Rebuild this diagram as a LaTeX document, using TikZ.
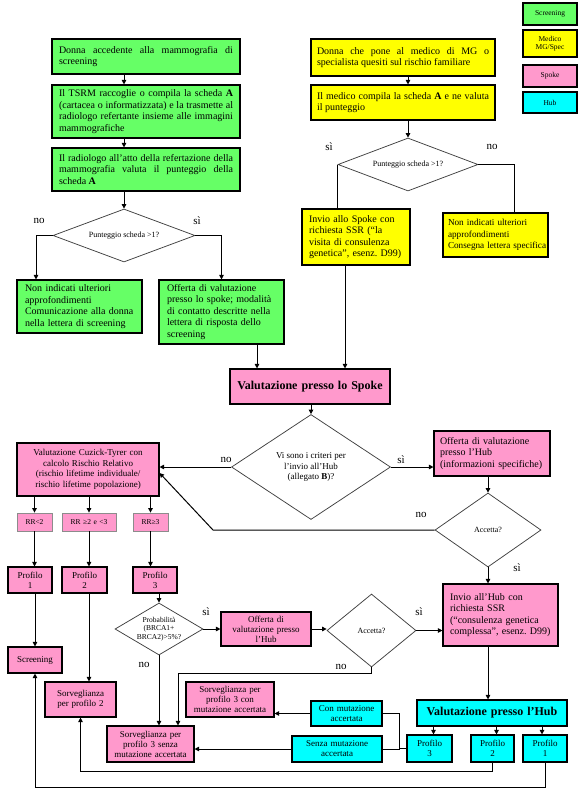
\documentclass[tikz,border=0pt]{standalone}
\usepackage{fontspec}
\setmainfont{Liberation Serif}
\usetikzlibrary{arrows.meta,shapes.geometric,calc}
\definecolor{cG}{HTML}{66FF66}
\definecolor{cY}{HTML}{FFFF00}
\definecolor{cP}{HTML}{FF99CC}
\definecolor{cC}{HTML}{00FFFF}
\newcommand\fTen{\fontsize{10}{11.5}\selectfont}
\newcommand\fNine{\fontsize{9}{10}\selectfont}
\newcommand\fNineB{\fontsize{9}{10.8}\selectfont}
\newcommand\fEight{\fontsize{8}{9.5}\selectfont}
\newcommand\fSev{\fontsize{7.5}{8.5}\selectfont}
\newcommand\fBig{\fontsize{12}{14}\selectfont\bfseries}
\newcommand\fLab{\fontsize{11}{13}\selectfont}
% name, x1, y1, x2, y2, pad, style, text
\newcommand\bx[8]{%
  \pgfmathsetmacro\myW{#4-#2}\pgfmathsetmacro\myH{#5-#3}\pgfmathsetmacro\myT{#4-#2-2*#6}%
  \node[#7, minimum width=\myW pt, minimum height=\myH pt, inner xsep=#6pt, text width=\myT pt] (#1) at ({(#2+#4)/2},{(#3+#5)/2}) {#8};}
\tikzset{
  bx/.style={draw=black, line width=1.1pt, inner ysep=0.5pt, font=\fTen},
  bxg/.style={bx, fill=cG},
  bxy/.style={bx, fill=cY},
  bxp/.style={bx, fill=cP},
  bxc/.style={bx, fill=cC},
  rrbox/.style={draw=black!45, line width=0.8pt, fill=cP, inner ysep=0pt, font=\fSev, align=center},
  dia/.style={diamond, draw=black!75, line width=0.75pt, fill=white, inner sep=0pt, align=center},
  arr/.style={line width=1pt, -{Triangle[length=4.5pt,width=4.5pt]}},
  ln/.style={line width=1pt},
  lab/.style={font=\fLab, inner sep=0pt}
}
\begin{document}
\hyphenpenalty=10000
\exhyphenpenalty=10000
\frenchspacing
\begin{tikzpicture}[x=1pt,y=-1pt]
\useasboundingbox[fill=white] (0,0) rectangle (582,795);

% legend
\bx{lgS}{523}{3}{577}{25}{2}{bxg, font=\fSev, align=center}{Screening}
\bx{lgM}{523}{30}{577}{57}{2}{bxy, font=\fSev, align=center}{Medico\\MG/Spec}
\bx{lgP}{523}{65}{577}{87}{2}{bxp, font=\fSev, align=center}{Spoke}
\bx{lgH}{523}{92}{577}{113}{2}{bxc, font=\fSev, align=center}{Hub}

% screening column
\bx{g1}{52}{39}{240}{74}{7}{bxg, align=justify}{Donna accedente alla mammografia di screening}
\bx{g2}{52}{85}{240}{138}{7}{bxg, align=justify}{Il TSRM raccoglie o compila la scheda \textbf{A}\linebreak (cartacea o informatizzata) e la trasmette al\linebreak radiologo refertante insieme alle immagini mammografiche}
\bx{g3}{52}{148}{240}{191}{7}{bxg, align=justify}{Il radiologo all’atto della refertazione della mammografia valuta il punteggio della scheda \textbf{A}}
\node[dia, font=\fEight, minimum width=142pt, minimum height=53pt, shape aspect=2.7] (dA) at (124,235.5) {Punteggio scheda >1?};
\bx{gNo}{17}{280}{142}{333}{8}{bxg, align=left}{Non indicati ulteriori\\approfondimenti\\Comunicazione alla donna\\\mbox{nella lettera di screening}}
\bx{gYes}{159}{280}{284}{344}{8}{bxg, align=left}{Offerta di valutazione\\\mbox{presso lo spoke; modalità}\\\mbox{di contatto descritte nella}\\lettera di risposta dello\\screening}

% medico column
\bx{y1}{311}{39}{495}{76}{6}{bxy, align=justify}{Donna che pone al medico di MG o specialista quesiti sul rischio familiare}
\bx{y2}{311}{85}{495}{120}{6}{bxy, align=justify}{Il medico compila la scheda \textbf{A} e ne valuta il punteggio}
\node[dia, font=\fEight, minimum width=140pt, minimum height=53pt, shape aspect=2.6] (dB) at (408,164.5) {Punteggio scheda >1?};
\bx{yInv}{302}{209}{410}{265}{7}{bxy, align=left}{Invio allo Spoke con\\richiesta SSR (“la\\visita di consulenza\\\mbox{genetica”, esenz. D99)}}
\bx{yNo}{443}{213}{548}{257}{5}{bxy, align=left, font=\fontsize{9.2}{11.5}\selectfont}{Non indicati ulteriori\\approfondimenti\\\mbox{Consegna lettera specifica}}

% spoke
\bx{spoke}{230}{369}{390}{404}{4}{bxp, font=\fBig, align=center}{Valutazione presso lo Spoke}
\node[dia, font=\fNineB, minimum width=159pt, minimum height=105pt, shape aspect=1.5] (bigD) at (311,467) {Vi sono i criteri per\\l’invio all’Hub\\(allegato \textbf{B})?};
\bx{cuz}{17}{443}{159}{496}{4}{bxp, font=\fontsize{9}{10.5}\selectfont, align=center}{Valutazione Cuzick-Tyrer con\\calcolo Rischio Relativo\\(rischio lifetime individuale/\\rischio lifetime popolazione)}
\bx{offHub}{434}{431}{550}{476}{6}{bxp, align=left}{Offerta di valutazione\\presso l’Hub\\\mbox{(informazioni specifiche)}}
\node[dia, font=\fEight, minimum width=106pt, minimum height=74pt, shape aspect=1.4] (acc1) at (488,530) {Accetta?};
\bx{invHub}{443}{584}{558}{646}{7}{bxp, align=left}{Invio all’Hub con\\richiesta SSR\\\mbox{(“consulenza genetica}\\\mbox{complessa”, esenz. D99)}}

% RR and profiles
\bx{RR1}{17}{513}{52}{531}{1}{rrbox}{RR<2}
\bx{RR2}{62}{513}{116}{531}{1}{rrbox}{RR ≥2 e <3}
\bx{RR3}{133}{513}{168}{531}{1}{rrbox}{RR≥3}
\bx{P1}{8}{567}{52}{593}{2}{bxp, font=\fNine, align=center}{Profilo\\1}
\bx{P2}{62}{567}{107}{593}{2}{bxp, font=\fNine, align=center}{Profilo\\2}
\bx{P3}{133}{567}{177}{593}{2}{bxp, font=\fNine, align=center}{Profilo\\3}
\node[dia, font=\fSev, minimum width=88pt, minimum height=52pt, shape aspect=1.7] (prob) at (159,629) {Probabilità\\(BRCA1+\\BRCA2)>5\%?};
\bx{offH2}{221}{612}{311}{646}{3}{bxp, font=\fNine, align=center}{Offerta di\\valutazione presso\\l’Hub}
\node[dia, font=\fEight, minimum width=89pt, minimum height=73pt, shape aspect=1.2] (acc2) at (371.5,630.5) {Accetta?};
\bx{scr}{8}{647}{62}{673}{2}{bxp, font=\fNine, align=center}{Screening}
\bx{s2}{45}{682}{116}{717}{2}{bxp, font=\fNine, align=center}{Sorveglianza\\per profilo 2}
\bx{s3con}{186}{682}{274}{717}{2}{bxp, font=\fNine, align=center}{Sorveglianza per\\profilo 3 con\\mutazione accertata}
\bx{s3s}{107}{726}{194}{762}{2}{bxp, font=\fNine, align=center}{Sorveglianza per\\profilo 3 senza\\mutazione accertata}

% hub
\bx{valHub}{417}{700}{567}{726}{4}{bxc, font=\fBig, align=center}{Valutazione presso l’Hub}
\bx{P3h}{407}{735}{452}{762}{2}{bxc, font=\fNine, align=center}{Profilo\\3}
\bx{P2h}{471}{735}{514}{762}{2}{bxc, font=\fNine, align=center}{Profilo\\2}
\bx{P1h}{523}{735}{567}{762}{2}{bxc, font=\fNine, align=center}{Profilo\\1}
\bx{con}{311}{701}{382}{726}{2}{bxc, font=\fNine, align=center}{Con mutazione\\accertata}
\bx{senza}{292}{736}{382}{762}{2}{bxc, font=\fNine, align=center}{Senza mutazione\\accertata}

% helper coordinates
\coordinate (xA) at (36,0);
\coordinate (xB) at (257,0);
\coordinate (xC) at (514,0);
\coordinate (xD) at (345,0);
\coordinate (xE) at (213,0);
\coordinate (xG) at (399,0);
\coordinate (xK) at (178,0);
\coordinate (yH) at (0,771);
\coordinate (yI) at (0,787);
\coordinate (yJ) at (0,673);
\coordinate (t3) at ($(P3h.north)+(4,0)$);
\coordinate (t2) at ($(P2h.north)+(4,0)$);
\coordinate (t1) at ($(P1h.north)+(-3,0)$);
\coordinate (cuzIn) at ($(cuz.east)+(0,3.5)$);

% connectors: screening
\draw[arr] (g1.south -| dA.north) -- (g2.north -| dA.north);
\draw[arr] (g2.south -| dA.north) -- (g3.north -| dA.north);
\draw[arr] (g3.south -| dA.north) -- (dA.north);
\draw[arr] (dA.west) -| (xA |- gNo.north);
\draw[arr] (dA.east) -| (gYes.north);
\draw[arr] (xB |- gYes.south) -- (xB |- spoke.north);
% medico
\draw[arr] (y1.south -| dB.north) -- (y2.north -| dB.north);
\draw[arr] (y2.south -| dB.north) -- (dB.north);
\draw[ln] (dB.west) -- (dB.west |- yInv.north);
\draw[ln] (dB.east) -| (xC |- yNo.north);
\draw[arr] (xD |- yInv.south) -- (xD |- spoke.north);
% spoke
\draw[arr] (spoke.south -| bigD.north) -- (bigD.north);
\draw[arr] (bigD.west) -- (bigD.west -| cuz.east);
\draw[arr] (bigD.east) -- (bigD.east -| offHub.west);
\draw[arr] (offHub.south -| acc1.north) -- (acc1.north);
\draw[arr] (acc1.west) -- (acc1.west -| xE) -- (cuzIn);
\draw[arr] (acc1.south) -- (acc1.south |- invHub.north);
\draw[arr] (invHub.south -| acc1.south) -- (valHub.north -| acc1.south);
% hub profiles
\draw[arr] (t3 |- valHub.south) -- (t3);
\draw[arr] (t2 |- valHub.south) -- (t2);
\draw[arr] (t1 |- valHub.south) -- (t1);
\draw[ln] (con.east) -| (xG |- senza.east) -- (senza.east);
\draw[ln] (P3h.west) -- (P3h.west -| xG);
\draw[arr] (con.west) -- (con.west -| s3con.east);
\draw[arr] (senza.west) -- (senza.west -| s3s.east);
\draw[arr] (P2h.south) -- (P2h.south |- yH) -| (s2.south);
\draw[arr] (P1h.south) -- (P1h.south |- yI) -| (scr.south);
% Cuzick branches
\draw[arr] (RR1.north |- cuz.south) -- (RR1.north);
\draw[arr] (RR2.north |- cuz.south) -- (RR2.north);
\draw[arr] (RR3.north |- cuz.south) -- (RR3.north);
\draw[arr] (RR1.south) -- (RR1.south |- P1.north);
\draw[arr] (RR2.south) -- (RR2.south |- P2.north);
\draw[arr] (RR3.south) -- (RR3.south |- P3.north);
\draw[arr] (scr.north |- P1.south) -- (scr.north);
\draw[arr] (RR2.south |- P2.south) -- (RR2.south |- s2.north);
\draw[arr] (prob.north |- P3.south) -- (prob.north);
\draw[arr] (prob.east) -- (prob.east -| offH2.west);
\draw[arr] (offH2.east) -- (offH2.east -| acc2.west);
\draw[arr] (acc2.east) -- (acc2.east -| invHub.west);
\draw[arr] (prob.south) -- (prob.south |- s3s.north);
\draw[arr] (acc2.south) -- (acc2.south |- yJ) -| (xK |- s3s.north);

% labels
\node[lab] (l1) at (39,221) {no};
\node[lab] (l2) at (197,221) {sì};
\node[lab] (l3) at (329,147) {sì};
\node[lab] (l4) at (492,147) {no};
\node[lab] (l5) at (226,460) {no};
\node[lab] (l6) at (401,460) {sì};
\node[lab] (l7) at (421,515) {no};
\node[lab] (l8) at (517,568) {sì};
\node[lab] (l9) at (206,612) {sì};
\node[lab] (l10) at (144,665) {no};
\node[lab] (l11) at (419,612) {sì};
\node[lab] (l12) at (341,667) {no};
\end{tikzpicture}
\end{document}
